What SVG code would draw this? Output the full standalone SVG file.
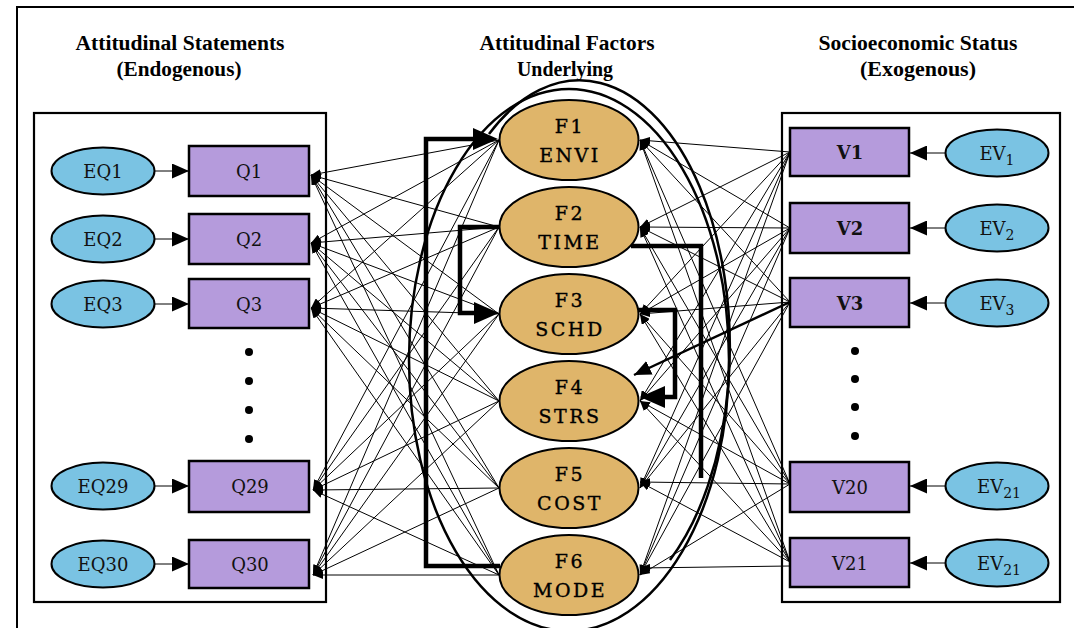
<svg xmlns="http://www.w3.org/2000/svg" width="1074" height="628" viewBox="0 0 1074 628">
  <style>
    .frame { fill: none; stroke: #000; stroke-width: 2; }
    .panel { fill: #fff; stroke: #000; stroke-width: 2.2; }
    .obs { fill: #B59BDC; stroke: #000; stroke-width: 2.5; }
    .err { fill: #7AC3E3; stroke: #000; stroke-width: 2; }
    .fac { fill: #DFB56A; stroke: #000; stroke-width: 2; }
    .dot { fill: #000; }
    .hdr { font-family: "Liberation Serif", "Times New Roman", serif; font-weight: bold; font-size: 20px; fill: #000; text-anchor: middle; }
    .lbl { font-family: "DejaVu Serif", "Liberation Serif", serif; font-size: 18px; fill: #111; text-anchor: middle; }
    .flbl { font-family: "DejaVu Serif", "Liberation Serif", serif; font-size: 19px; fill: #000; stroke: #000; stroke-width: 0.35; text-anchor: middle; letter-spacing: 2.5px; }
    .sub { font-size: 14px; }
    .thin { fill: none; stroke: #000; stroke-width: 1; }
    .thick { fill: none; stroke: #000; stroke-width: 4.5; stroke-linejoin: miter; }
    .med { fill: none; stroke: #000; stroke-width: 2.4; }
    .ring { fill: none; stroke: #000; stroke-width: 2.5; }
  </style>
  <defs>
    <marker id="ah-s" markerUnits="userSpaceOnUse" markerWidth="10" markerHeight="8" refX="10" refY="4" orient="auto">
      <path d="M0,0 L10,4 L0,8 z" fill="#000"/>
    </marker>
    <marker id="ah-m" markerUnits="userSpaceOnUse" markerWidth="17" markerHeight="15" refX="17" refY="7.5" orient="auto">
      <path d="M0,0 L17,7.5 L0,15 z" fill="#000"/>
    </marker>
    <marker id="ah-l" markerUnits="userSpaceOnUse" markerWidth="25" markerHeight="22" refX="0" refY="11" orient="auto">
      <path d="M0,0 L25,11 L0,22 z" fill="#000"/>
    </marker>
  </defs>

  <rect width="1074" height="628" fill="#fff"/>
  <!-- page border (top and left only) -->
  <path class="frame" d="M 17 628 V 7 H 1074"/>

  <!-- column headings -->
  <g id="headings">
    <text class="hdr" x="180" y="50" textLength="209" lengthAdjust="spacingAndGlyphs">Attitudinal Statements</text>
    <text class="hdr" x="179" y="76" textLength="125" lengthAdjust="spacingAndGlyphs">(Endogenous)</text>
    <text class="hdr" x="567" y="50" textLength="175" lengthAdjust="spacingAndGlyphs">Attitudinal Factors</text>
    <text class="hdr" x="565" y="76" textLength="96" lengthAdjust="spacingAndGlyphs">Underlying</text>
    <text class="hdr" x="918" y="50" textLength="199" lengthAdjust="spacingAndGlyphs">Socioeconomic Status</text>
    <text class="hdr" x="918" y="76" textLength="116" lengthAdjust="spacingAndGlyphs">(Exogenous)</text>
  </g>

  <!-- side panels -->
  <rect id="panel-endogenous" class="panel" x="34" y="113" width="292" height="489"/>
  <rect id="panel-exogenous" class="panel" x="782" y="113" width="278" height="489"/>

  <!-- connectors -->
  <g id="connectors">
    <!-- error terms into statements -->
    <line class="thin" x1="155" y1="171" x2="189" y2="171" marker-end="url(#ah-m)"/>
    <line class="thin" x1="155" y1="239" x2="189" y2="239" marker-end="url(#ah-m)"/>
    <line class="thin" x1="155" y1="304" x2="189" y2="304" marker-end="url(#ah-m)"/>
    <line class="thin" x1="155" y1="486" x2="189" y2="486" marker-end="url(#ah-m)"/>
    <line class="thin" x1="155" y1="564" x2="189" y2="564" marker-end="url(#ah-m)"/>
    <!-- error terms into socioeconomic variables -->
    <line class="thin" x1="946" y1="153" x2="910" y2="153" marker-end="url(#ah-m)"/>
    <line class="thin" x1="946" y1="228" x2="910" y2="228" marker-end="url(#ah-m)"/>
    <line class="thin" x1="946" y1="303" x2="910" y2="303" marker-end="url(#ah-m)"/>
    <line class="thin" x1="946" y1="486" x2="910" y2="486" marker-end="url(#ah-m)"/>
    <line class="thin" x1="946" y1="563" x2="910" y2="563" marker-end="url(#ah-m)"/>

    <!-- factor loadings: every factor to every statement -->
    <g id="loadings">
      <line class="thin" x1="499" y1="140" x2="311" y2="175" marker-end="url(#ah-s)"/>
      <line class="thin" x1="499" y1="227" x2="311" y2="175" marker-end="url(#ah-s)"/>
      <line class="thin" x1="499" y1="314" x2="311" y2="175" marker-end="url(#ah-s)"/>
      <line class="thin" x1="499" y1="401" x2="311" y2="175" marker-end="url(#ah-s)"/>
      <line class="thin" x1="499" y1="488" x2="311" y2="175" marker-end="url(#ah-s)"/>
      <line class="thin" x1="499" y1="575" x2="311" y2="175" marker-end="url(#ah-s)"/>

      <line class="thin" x1="499" y1="140" x2="311" y2="243" marker-end="url(#ah-s)"/>
      <line class="thin" x1="499" y1="227" x2="311" y2="243" marker-end="url(#ah-s)"/>
      <line class="thin" x1="499" y1="314" x2="311" y2="243" marker-end="url(#ah-s)"/>
      <line class="thin" x1="499" y1="401" x2="311" y2="243" marker-end="url(#ah-s)"/>
      <line class="thin" x1="499" y1="488" x2="311" y2="243" marker-end="url(#ah-s)"/>
      <line class="thin" x1="499" y1="575" x2="311" y2="243" marker-end="url(#ah-s)"/>

      <line class="thin" x1="499" y1="140" x2="311" y2="308" marker-end="url(#ah-s)"/>
      <line class="thin" x1="499" y1="227" x2="311" y2="308" marker-end="url(#ah-s)"/>
      <line class="thin" x1="499" y1="314" x2="311" y2="308" marker-end="url(#ah-s)"/>
      <line class="thin" x1="499" y1="401" x2="311" y2="308" marker-end="url(#ah-s)"/>
      <line class="thin" x1="499" y1="488" x2="311" y2="308" marker-end="url(#ah-s)"/>
      <line class="thin" x1="499" y1="575" x2="311" y2="308" marker-end="url(#ah-s)"/>

      <line class="thin" x1="499" y1="140" x2="313" y2="490" marker-end="url(#ah-s)"/>
      <line class="thin" x1="499" y1="227" x2="313" y2="490" marker-end="url(#ah-s)"/>
      <line class="thin" x1="499" y1="314" x2="313" y2="490" marker-end="url(#ah-s)"/>
      <line class="thin" x1="499" y1="401" x2="313" y2="490" marker-end="url(#ah-s)"/>
      <line class="thin" x1="499" y1="488" x2="313" y2="490" marker-end="url(#ah-s)"/>
      <line class="thin" x1="499" y1="575" x2="313" y2="490" marker-end="url(#ah-s)"/>

      <line class="thin" x1="499" y1="140" x2="313" y2="575" marker-end="url(#ah-s)"/>
      <line class="thin" x1="499" y1="227" x2="313" y2="575" marker-end="url(#ah-s)"/>
      <line class="thin" x1="499" y1="314" x2="313" y2="575" marker-end="url(#ah-s)"/>
      <line class="thin" x1="499" y1="401" x2="313" y2="575" marker-end="url(#ah-s)"/>
      <line class="thin" x1="499" y1="488" x2="313" y2="575" marker-end="url(#ah-s)"/>
      <line class="thin" x1="499" y1="575" x2="313" y2="575" marker-end="url(#ah-s)"/>
    </g>

    <!-- socioeconomic effects: every variable to every factor -->
    <g id="effects">
      <line class="thin" x1="790" y1="152" x2="640" y2="140" marker-end="url(#ah-s)"/>
      <line class="thin" x1="790" y1="152" x2="640" y2="227" marker-end="url(#ah-s)"/>
      <line class="thin" x1="790" y1="152" x2="640" y2="314" marker-end="url(#ah-s)"/>
      <line class="thin" x1="790" y1="152" x2="640" y2="401" marker-end="url(#ah-s)"/>
      <line class="thin" x1="790" y1="152" x2="640" y2="488" marker-end="url(#ah-s)"/>
      <line class="thin" x1="790" y1="152" x2="640" y2="575" marker-end="url(#ah-s)"/>

      <line class="thin" x1="790" y1="228" x2="640" y2="140" marker-end="url(#ah-s)"/>
      <line class="thin" x1="790" y1="228" x2="640" y2="227" marker-end="url(#ah-s)"/>
      <line class="thin" x1="790" y1="228" x2="640" y2="314" marker-end="url(#ah-s)"/>
      <line class="thin" x1="790" y1="228" x2="640" y2="401" marker-end="url(#ah-s)"/>
      <line class="thin" x1="790" y1="228" x2="640" y2="488" marker-end="url(#ah-s)"/>
      <line class="thin" x1="790" y1="228" x2="640" y2="575" marker-end="url(#ah-s)"/>

      <line class="thin" x1="790" y1="302" x2="640" y2="140" marker-end="url(#ah-s)"/>
      <line class="thin" x1="790" y1="302" x2="640" y2="227" marker-end="url(#ah-s)"/>
      <line class="thin" x1="790" y1="302" x2="640" y2="314" marker-end="url(#ah-s)"/>
      <line class="thin" x1="790" y1="302" x2="640" y2="488" marker-end="url(#ah-s)"/>
      <line class="thin" x1="790" y1="302" x2="640" y2="575" marker-end="url(#ah-s)"/>

      <line class="thin" x1="790" y1="484" x2="640" y2="140" marker-end="url(#ah-s)"/>
      <line class="thin" x1="790" y1="484" x2="640" y2="227" marker-end="url(#ah-s)"/>
      <line class="thin" x1="790" y1="484" x2="640" y2="314" marker-end="url(#ah-s)"/>
      <line class="thin" x1="790" y1="484" x2="640" y2="401" marker-end="url(#ah-s)"/>
      <line class="thin" x1="790" y1="484" x2="640" y2="482" marker-end="url(#ah-s)"/>
      <line class="thin" x1="790" y1="484" x2="640" y2="575" marker-end="url(#ah-s)"/>

      <line class="thin" x1="790" y1="562" x2="640" y2="140" marker-end="url(#ah-s)"/>
      <line class="thin" x1="790" y1="562" x2="640" y2="227" marker-end="url(#ah-s)"/>
      <line class="thin" x1="790" y1="562" x2="640" y2="314" marker-end="url(#ah-s)"/>
      <line class="thin" x1="790" y1="562" x2="640" y2="401" marker-end="url(#ah-s)"/>
      <line class="thin" x1="790" y1="562" x2="640" y2="482" marker-end="url(#ah-s)"/>
      <line class="thin" x1="790" y1="566" x2="640" y2="568" marker-end="url(#ah-s)"/>
    </g>

    <!-- V3 to STRS, drawn heavier -->
    <line class="med" x1="790" y1="302" x2="634" y2="375" marker-end="url(#ah-m)"/>

    <!-- structural paths between factors -->
    <path class="thick" d="M 500 566 H 426 V 139 H 473" marker-end="url(#ah-l)"/>
    <path class="thick" d="M 500 227 H 460 V 313 H 474" marker-end="url(#ah-l)"/>
    <path class="thick" d="M 631 246 H 701 V 478"/>
    <path class="thick" d="M 634 310 H 675 V 397 H 665" marker-end="url(#ah-l)"/>

    <!-- enclosing ring and covariance arc around the factors -->
    <ellipse class="ring" cx="569" cy="360" rx="160" ry="271"/>
    <path class="ring" d="M 489 134 A 150 266 0 0 1 670 560"/>
  </g>

  <!-- statements -->
  <g id="EQ1"><ellipse class="err" cx="103" cy="171" rx="51.5" ry="23.5"/><text class="lbl" x="103" y="178">EQ1</text></g>
  <g id="EQ2"><ellipse class="err" cx="103" cy="239" rx="51.5" ry="23.5"/><text class="lbl" x="103" y="246">EQ2</text></g>
  <g id="EQ3"><ellipse class="err" cx="103" cy="304" rx="51.5" ry="23.5"/><text class="lbl" x="103" y="311">EQ3</text></g>
  <g id="EQ29"><ellipse class="err" cx="103" cy="486" rx="51.5" ry="23.5"/><text class="lbl" x="103" y="493">EQ29</text></g>
  <g id="EQ30"><ellipse class="err" cx="103" cy="564" rx="51.5" ry="23.5"/><text class="lbl" x="103" y="571">EQ30</text></g>

  <g id="Q1"><rect class="obs" x="189" y="146" width="120" height="50"/><text class="lbl" x="249" y="178">Q1</text></g>
  <g id="Q2"><rect class="obs" x="189" y="214" width="120" height="50"/><text class="lbl" x="249" y="246">Q2</text></g>
  <g id="Q3"><rect class="obs" x="189" y="279" width="120" height="49"/><text class="lbl" x="249" y="311">Q3</text></g>
  <g id="Q29"><rect class="obs" x="189" y="461" width="120" height="51"/><text class="lbl" x="250" y="493">Q29</text></g>
  <g id="Q30"><rect class="obs" x="189" y="540" width="120" height="48"/><text class="lbl" x="250" y="571">Q30</text></g>

  <g id="dots-left">
    <circle class="dot" cx="249" cy="352" r="4"/>
    <circle class="dot" cx="249" cy="381" r="4"/>
    <circle class="dot" cx="249" cy="410" r="4"/>
    <circle class="dot" cx="249" cy="439" r="4"/>
  </g>

  <!-- factors -->
  <g id="F1"><ellipse class="fac" cx="569" cy="140" rx="69.5" ry="40"/><text class="flbl" x="570" y="133">F1</text><text class="flbl" x="570" y="162">ENVI</text></g>
  <g id="F2"><ellipse class="fac" cx="569" cy="227" rx="69.5" ry="40"/><text class="flbl" x="570" y="220">F2</text><text class="flbl" x="570" y="249">TIME</text></g>
  <g id="F3"><ellipse class="fac" cx="569" cy="314" rx="69.5" ry="40"/><text class="flbl" x="570" y="307">F3</text><text class="flbl" x="570" y="336">SCHD</text></g>
  <g id="F4"><ellipse class="fac" cx="569" cy="401" rx="69.5" ry="40"/><text class="flbl" x="570" y="394">F4</text><text class="flbl" x="570" y="423">STRS</text></g>
  <g id="F5"><ellipse class="fac" cx="569" cy="488" rx="69.5" ry="40"/><text class="flbl" x="570" y="481">F5</text><text class="flbl" x="570" y="510">COST</text></g>
  <g id="F6"><ellipse class="fac" cx="569" cy="575" rx="69.5" ry="40"/><text class="flbl" x="570" y="568">F6</text><text class="flbl" x="570" y="597">MODE</text></g>

  <!-- socioeconomic variables -->
  <g id="V1"><rect class="obs" x="790" y="128" width="119" height="48"/><text class="lbl" x="850" y="159" font-weight="bold">V1</text></g>
  <g id="V2"><rect class="obs" x="790" y="203" width="119" height="50"/><text class="lbl" x="850" y="235" font-weight="bold">V2</text></g>
  <g id="V3"><rect class="obs" x="790" y="278" width="119" height="49"/><text class="lbl" x="850" y="310" font-weight="bold">V3</text></g>
  <g id="V20"><rect class="obs" x="790" y="462" width="119" height="50"/><text class="lbl" x="850" y="494">V20</text></g>
  <g id="V21"><rect class="obs" x="790" y="538" width="119" height="49"/><text class="lbl" x="850" y="570">V21</text></g>

  <g id="EV1"><ellipse class="err" cx="997" cy="153" rx="51.5" ry="23.5"/><text class="lbl" x="997" y="160">EV<tspan class="sub" dy="5">1</tspan></text></g>
  <g id="EV2"><ellipse class="err" cx="997" cy="228" rx="51.5" ry="23.5"/><text class="lbl" x="997" y="235">EV<tspan class="sub" dy="5">2</tspan></text></g>
  <g id="EV3"><ellipse class="err" cx="997" cy="303" rx="51.5" ry="23.5"/><text class="lbl" x="997" y="310">EV<tspan class="sub" dy="5">3</tspan></text></g>
  <g id="EV20"><ellipse class="err" cx="997" cy="486" rx="51.5" ry="23.5"/><text class="lbl" x="999" y="493">EV<tspan class="sub" dy="5">21</tspan></text></g>
  <g id="EV21"><ellipse class="err" cx="997" cy="563" rx="51.5" ry="23.5"/><text class="lbl" x="999" y="570">EV<tspan class="sub" dy="5">21</tspan></text></g>

  <g id="dots-right">
    <circle class="dot" cx="855" cy="351" r="4"/>
    <circle class="dot" cx="855" cy="379" r="4"/>
    <circle class="dot" cx="855" cy="407" r="4"/>
    <circle class="dot" cx="855" cy="436" r="4"/>
  </g>
</svg>
